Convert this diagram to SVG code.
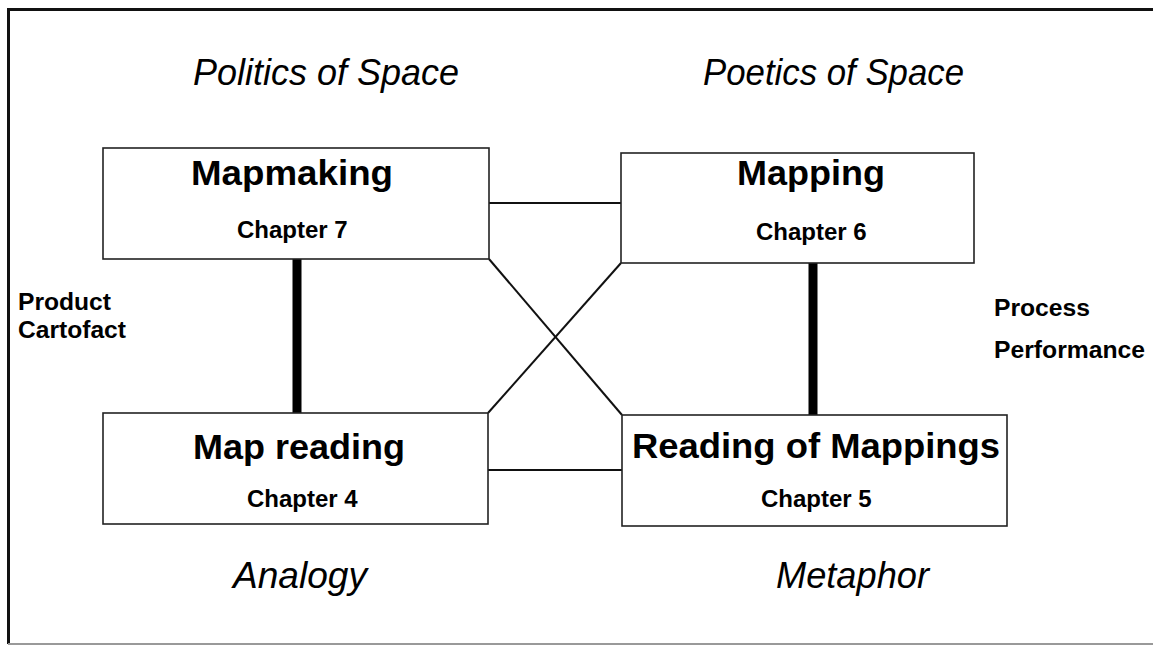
<svg xmlns="http://www.w3.org/2000/svg" width="1153" height="646" viewBox="0 0 1153 646">
<style>
.box{fill:#fff;stroke:#222;stroke-width:1.6}
.title{font-family:"Liberation Sans",Arial,sans-serif;font-weight:bold;font-size:35px;fill:#000}
.chap{font-family:"Liberation Sans",Arial,sans-serif;font-weight:bold;font-size:24px;fill:#000}
.side{font-family:"Liberation Sans",Arial,sans-serif;font-weight:bold;font-size:23px;fill:#000}
.ital{font-family:"Liberation Sans",Arial,sans-serif;font-style:italic;font-size:36px;fill:#000}
.thin{stroke:#111;stroke-width:2;fill:none}
.thick{stroke:#000;stroke-width:9;fill:none}
</style>
<rect width="1153" height="646" fill="#fff"/>
<g id="frame">
<path d="M1160,9.5 H8.5 V644" fill="none" stroke="#111" stroke-width="3"/>
<path d="M8,644 H1160" fill="none" stroke="#999" stroke-width="2"/>
</g>
<g id="connectors">
<line class="thin" x1="489" y1="203" x2="621" y2="203"/>
<line class="thin" x1="488" y1="470" x2="622" y2="470"/>
<line class="thin" x1="489" y1="259" x2="622" y2="415"/>
<line class="thin" x1="621" y1="263" x2="488" y2="413"/>
<line class="thick" x1="297" y1="259" x2="297" y2="413"/>
<line class="thick" x1="813" y1="263" x2="813" y2="415"/>
</g>
<g id="labels">
<text class="ital" x="193" y="85" textLength="266" lengthAdjust="spacingAndGlyphs">Politics of Space</text>
<text class="ital" x="703" y="85" textLength="261" lengthAdjust="spacingAndGlyphs">Poetics of Space</text>
<text class="ital" x="233" y="588" textLength="134" lengthAdjust="spacingAndGlyphs">Analogy</text>
<text class="ital" x="776" y="588" textLength="153" lengthAdjust="spacingAndGlyphs">Metaphor</text>
<text class="side" x="18" y="310" textLength="93" lengthAdjust="spacingAndGlyphs">Product</text>
<text class="side" x="18" y="338" textLength="108" lengthAdjust="spacingAndGlyphs">Cartofact</text>
<text class="side" x="994" y="316" textLength="96" lengthAdjust="spacingAndGlyphs">Process</text>
<text class="side" x="994" y="358" textLength="151" lengthAdjust="spacingAndGlyphs">Performance</text>
</g>
<g id="mapmaking">
<rect class="box" x="103" y="148" width="386" height="111"/>
<text class="title" x="191" y="185" textLength="202" lengthAdjust="spacingAndGlyphs">Mapmaking</text>
<text class="chap" x="237" y="238">Chapter 7</text>
</g>
<g id="mapping">
<rect class="box" x="621" y="153" width="353" height="110"/>
<text class="title" x="737" y="185" textLength="148" lengthAdjust="spacingAndGlyphs">Mapping</text>
<text class="chap" x="756" y="240">Chapter 6</text>
</g>
<g id="mapreading">
<rect class="box" x="103" y="413" width="385" height="111"/>
<text class="title" x="193" y="459" textLength="212" lengthAdjust="spacingAndGlyphs">Map reading</text>
<text class="chap" x="247" y="507">Chapter 4</text>
</g>
<g id="readingofmappings">
<rect class="box" x="622" y="415" width="385" height="111"/>
<text class="title" x="632" y="458" textLength="368" lengthAdjust="spacingAndGlyphs">Reading of Mappings</text>
<text class="chap" x="761" y="507">Chapter 5</text>
</g>
</svg>
